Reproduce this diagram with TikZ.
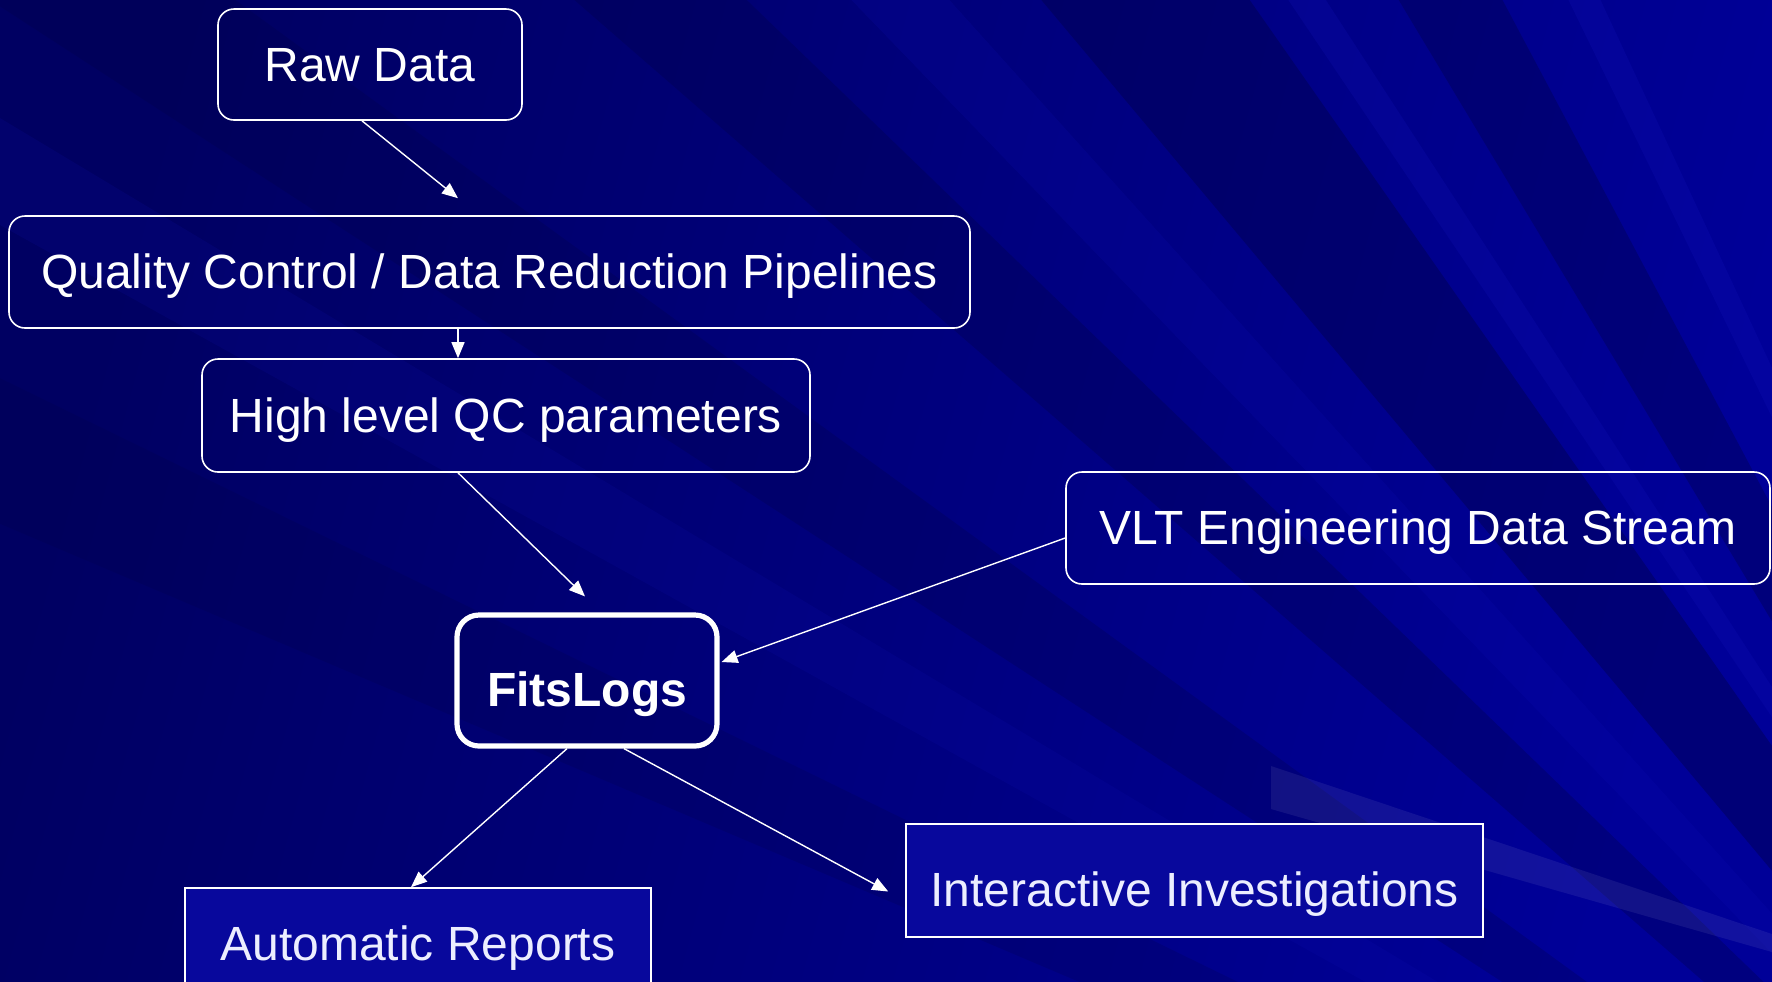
\documentclass[tikz,border=0pt]{standalone}
\usepackage{fontspec}
\setmainfont{Liberation Sans}
\usetikzlibrary{positioning, arrows.meta}

\definecolor{bgdark}{RGB}{0,0,98}
\definecolor{bglight}{RGB}{0,0,152}
\definecolor{raydark}{RGB}{0,0,70}
\definecolor{raylight}{RGB}{20,20,190}
\definecolor{boxfill}{RGB}{8,8,156}
\definecolor{boxtext}{RGB}{236,238,255}

\begin{document}
\begin{tikzpicture}[
        x=0.5pt, y=-0.5pt,
        font=\fontsize{24}{29}\selectfont,
        roundbox/.style={rectangle, draw=white, text=white, rounded
          corners=8pt, inner sep=0pt, line width=0.8pt,
          text height=16.5pt, text depth=0pt},
        squarebox/.style={rectangle, draw=white, fill=boxfill,
          text=boxtext, inner sep=0pt, line width=0.8pt,
          text height=16.5pt, text depth=0pt},
        mainbox/.style={rectangle, draw=white, text=white, rounded
          corners=11pt, inner sep=0pt, line width=2.6pt,
          text height=26pt, text depth=0pt,
          font=\fontsize{24}{29}\selectfont\bfseries},
        arrow/.style={draw=white, line width=0.7pt,
          -{Triangle[length=8pt, width=6.5pt]}}
      ]
      % Background with light rays
      \useasboundingbox (0,0) rectangle (1772,981);
      \shade[left color=bgdark, right color=bglight, shading angle=75]
      (0,0) rectangle (1772,981);
      \begin{scope}
        \clip (0,0) rectangle (1772,981);
        \coordinate (focus) at (2300,1500);
        \foreach \a/\b/\c/\o in {203/206/raydark/0.2, 209/211/raylight/0.12,
          213/216/raydark/0.25, 221/224/raydark/0.3, 226/228/raylight/0.15,
          230/235/raydark/0.4, 236/237/raylight/0.2, 239/242/raydark/0.35,
          244/245/raylight/0.2}
        \fill[\c, opacity=\o] (focus) -- +(\a:3600) -- +(\b:3600) -- cycle;
        \fill[white, opacity=0.07] (1271,766) -- (1772,934) -- (1772,952)
        -- (1271,809) -- cycle;
      \end{scope}

      % Boxes
      \node [roundbox, minimum width=152pt, minimum height=55.5pt]
      (raw) at (370,64.5) {Raw Data};
      \node [roundbox, minimum width=480.5pt, minimum height=56pt]
      (qc) at (489.5,272) {Quality Control / Data Reduction Pipelines};
      \node [roundbox, minimum width=304pt, minimum height=56.5pt]
      (hlqc) at (506,415.5) {High level QC parameters};
      \node [roundbox, minimum width=352pt, minimum height=56pt]
      (vlt) at (1418,528) {VLT Engineering Data Stream};
      \node [mainbox, minimum width=130pt, minimum height=65.5pt]
      (fits) at (587,680.5) {FitsLogs};
      \node [squarebox, minimum width=233pt, minimum height=56pt]
      (auto) at (418,944) {Automatic Reports};
      \node [squarebox, minimum width=288.5pt, minimum height=56.5pt,
      text height=25.5pt] (inter) at (1194.5,880.5)
      {Interactive Investigations};

      % Data flow
      \path [arrow] ([xshift=-4pt]raw.south)
      -- ([xshift=-15.75pt, yshift=8.5pt]qc.north);
      \path [arrow] ([xshift=-15.75pt]qc.south)
      -- ([xshift=-15.75pt]qc.south |- hlqc.north);
      \path [arrow] ([xshift=-24pt]hlqc.south)
      -- ([xshift=-1pt, yshift=8pt]fits.north);
      \path [arrow] ([yshift=-5pt]vlt.west)
      -- ([xshift=1pt, yshift=9.25pt]fits.east);
      \path [arrow] ([xshift=-10pt]fits.south)
      -- ([xshift=-3.5pt]auto.north);
      \path [arrow] ([xshift=18.5pt]fits.south)
      -- ([xshift=-8.5pt, yshift=-5.5pt]inter.west);

    \end{tikzpicture}
\end{document}
